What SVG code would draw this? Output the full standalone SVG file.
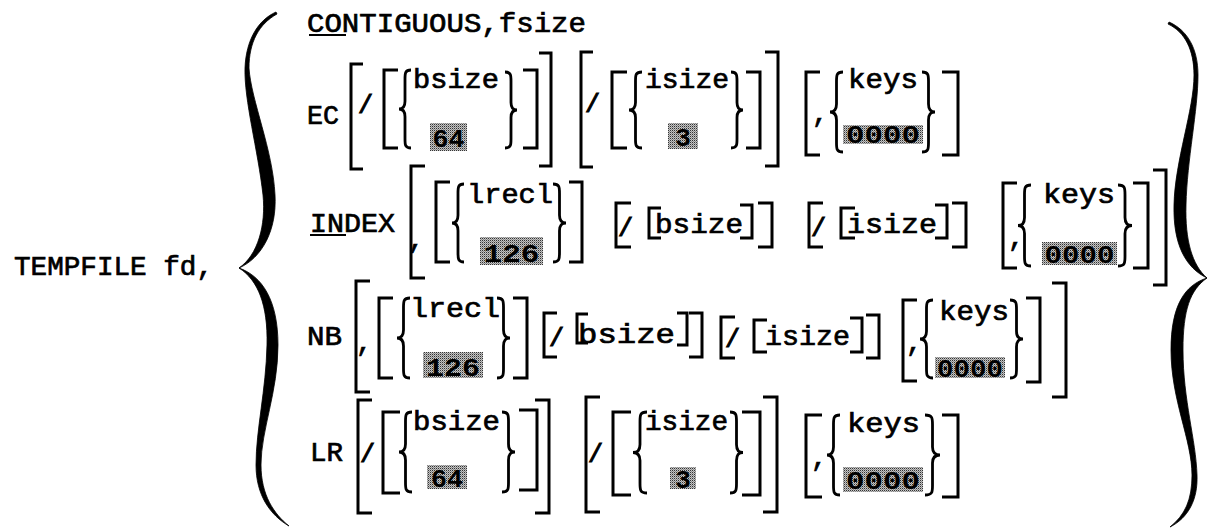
<svg xmlns="http://www.w3.org/2000/svg" xmlns:xlink="http://www.w3.org/1999/xlink" width="1207" height="528" viewBox="0 0 1207 528">
  <style>
    .t { font-family: "Liberation Mono", "Courier New", monospace; font-weight: normal; font-size: 27px; fill: #000; stroke: #000; stroke-width: 0.7px; }
    .s { font-family: "Liberation Mono", "Courier New", monospace; font-weight: normal; font-size: 25px; fill: #000; stroke: #000; stroke-width: 1px; }
    .d { font-family: "Liberation Mono", "Courier New", monospace; font-weight: bold; font-size: 26px; fill: #000; text-anchor: middle; }
    .br { fill: none; stroke: #000; stroke-width: 3; stroke-linejoin: miter; }
    .ul { stroke: #000; stroke-width: 2; }
    .hl { fill: url(#stipple); }
    .big { fill: #000; stroke: #000; stroke-width: 0.8; }
  </style>
  <defs>
    <!-- dithered grey shading behind default values -->
    <pattern id="stipple" width="2" height="2" patternUnits="userSpaceOnUse">
      <rect width="2" height="2" fill="#c4c4c4"/>
      <rect width="1" height="1" fill="#333"/>
      <rect x="1" y="1" width="1" height="1" fill="#8a8a8a"/>
    </pattern>
    <!-- small choice braces, stretched to the size of each option stack -->
    <symbol id="lb" viewBox="0 0 12 100" preserveAspectRatio="none" style="overflow:visible">
      <path d="M12,0 C6,0 6,4 6,12 L6,40 C6,47 4,50 0,50 C4,50 6,53 6,60 L6,88 C6,96 6,100 12,100" fill="none" stroke="#000" stroke-width="2.8" vector-effect="non-scaling-stroke"/>
    </symbol>
    <symbol id="rb" viewBox="0 0 12 100" preserveAspectRatio="none" style="overflow:visible">
      <path d="M0,0 C6,0 6,4 6,12 L6,40 C6,47 8,50 12,50 C8,50 6,53 6,60 L6,88 C6,96 6,100 0,100" fill="none" stroke="#000" stroke-width="2.8" vector-effect="non-scaling-stroke"/>
    </symbol>
  </defs>

  <rect width="1207" height="528" fill="#fff"/>

  <!-- command name -->
  <g id="command">
    <text class="t" x="14" y="275" textLength="199" lengthAdjust="spacingAndGlyphs">TEMPFILE fd,</text>
  </g>

  <!-- large outer braces -->
  <g id="brace-left">
    <path class="big" d="M276,12 C258,20 246,40 245,68 C244,100 258,150 263,195 C266,225 258,255 239,268 C262,258 277,230 275,195 C273,150 251,100 249,68 C249,42 259,24 277,14 Z"/>
    <path class="big" d="M239,268 C258,280 268,305 267,345 C266,390 256,430 256,465 C256,495 270,515 289,526 C274,514 261,495 261,465 C261,430 278,392 278,345 C278,300 262,276 239,268 Z"/>
  </g>
  <g id="brace-right">
    <path class="big" d="M1169,22 C1187,30 1198,48 1198,75 C1198,110 1187,160 1186,205 C1185,240 1192,265 1207,278 C1186,268 1173,245 1174,205 C1175,160 1194,110 1194,75 C1194,50 1185,32 1168,24 Z"/>
    <path class="big" d="M1207,278 C1190,290 1183,310 1183,350 C1183,400 1196,440 1197,475 C1198,500 1188,518 1170,527 C1185,515 1192,500 1192,475 C1192,440 1171,400 1171,350 C1171,305 1185,285 1207,278 Z"/>
  </g>

  <!-- CONTIGUOUS option -->
  <g id="row-contiguous">
    <text class="t" x="307" y="32" textLength="279" lengthAdjust="spacingAndGlyphs">CONTIGUOUS,fsize</text>
    <line class="ul" x1="309" y1="35" x2="346" y2="35"/>
  </g>

  <!-- EC option -->
  <g id="row-ec">
    <text class="t" x="307" y="124" textLength="32" lengthAdjust="spacingAndGlyphs">EC</text>
    <path class="br" d="M363,64 H351 V169 H363"/>
    <text class="s" x="358" y="113">/</text>
    <path class="br" d="M398,70 H384 V148 H398"/>
    <use href="#lb" x="399" y="70" width="12" height="78"/>
    <text class="t" x="413" y="88" textLength="86" lengthAdjust="spacingAndGlyphs">bsize</text>
    <rect class="hl" x="430" y="123" width="37" height="28"/>
    <text class="d" x="448.5" y="147" textLength="32" lengthAdjust="spacingAndGlyphs">64</text>
    <use href="#rb" x="505" y="72" width="12" height="76"/>
    <path class="br" d="M523,70 H537 V148 H523"/>
    <path class="br" d="M539,53 H551 V166 H539"/>

    <path class="br" d="M593,52 H581 V167 H593"/>
    <text class="s" x="585" y="112">/</text>
    <path class="br" d="M627,72 H612 V148 H627"/>
    <use href="#lb" x="629" y="72" width="13" height="76"/>
    <text class="t" x="645" y="88" textLength="84" lengthAdjust="spacingAndGlyphs">isize</text>
    <rect class="hl" x="668" y="123" width="30" height="26"/>
    <text class="d" x="683" y="146">3</text>
    <use href="#rb" x="731" y="72" width="12" height="76"/>
    <path class="br" d="M746,72 H760 V148 H746"/>
    <path class="br" d="M765,52 H778 V166 H765"/>

    <path class="br" d="M820,72 H806 V155 H820"/>
    <text class="t" x="812" y="122">,</text>
    <use href="#lb" x="830" y="72" width="13" height="80"/>
    <text class="t" x="848" y="88" textLength="70" lengthAdjust="spacingAndGlyphs">keys</text>
    <rect class="hl" x="843" y="125" width="80" height="19"/>
    <text class="d" x="883" y="143" textLength="74" lengthAdjust="spacingAndGlyphs">0000</text>
    <use href="#rb" x="922" y="72" width="13" height="80"/>
    <path class="br" d="M942,72 H958 V155 H942"/>
  </g>

  <!-- INDEX option -->
  <g id="row-index">
    <text class="t" x="310" y="232" textLength="85" lengthAdjust="spacingAndGlyphs">INDEX</text>
    <line class="ul" x1="310" y1="235" x2="346" y2="235"/>
    <path class="br" d="M425,166 H411 V278 H425"/>
    <text class="t" x="408" y="248">,</text>
    <path class="br" d="M450,182 H436 V262 H450"/>
    <use href="#lb" x="452" y="184" width="12" height="78"/>
    <text class="t" x="467" y="203" textLength="86" lengthAdjust="spacingAndGlyphs">lrecl</text>
    <rect class="hl" x="480" y="237" width="63" height="28"/>
    <text class="d" x="511.5" y="262" textLength="56" lengthAdjust="spacingAndGlyphs">126</text>
    <use href="#rb" x="553" y="184" width="13" height="78"/>
    <path class="br" d="M569,182 H582 V262 H569"/>

    <path class="br" d="M631,203 H616 V247 H631"/>
    <text class="s" x="618" y="236">/</text>
    <path class="br" d="M661,208 H649 V238 H661"/>
    <text class="t" x="655" y="233" textLength="88" lengthAdjust="spacingAndGlyphs">bsize</text>
    <path class="br" d="M740,205 H752 V238 H740"/>
    <path class="br" d="M758,203 H772 V247 H758"/>

    <path class="br" d="M823,203 H809 V247 H823"/>
    <text class="s" x="811" y="236">/</text>
    <path class="br" d="M855,208 H841 V238 H855"/>
    <text class="t" x="847" y="233" textLength="90" lengthAdjust="spacingAndGlyphs">isize</text>
    <path class="br" d="M935,205 H947 V238 H935"/>
    <path class="br" d="M952,203 H966 V247 H952"/>

    <path class="br" d="M1017,183 H1003 V268 H1017"/>
    <text class="t" x="1008" y="246">,</text>
    <use href="#lb" x="1018" y="185" width="13" height="81"/>
    <text class="t" x="1043" y="203" textLength="72" lengthAdjust="spacingAndGlyphs">keys</text>
    <rect class="hl" x="1042" y="242" width="75" height="23"/>
    <text class="d" x="1079.5" y="263" textLength="70" lengthAdjust="spacingAndGlyphs">0000</text>
    <use href="#rb" x="1118" y="185" width="14" height="81"/>
    <path class="br" d="M1133,183 H1148 V268 H1133"/>
    <path class="br" d="M1153,170 H1166 V285 H1153"/>
  </g>

  <!-- NB option -->
  <g id="row-nb">
    <text class="t" x="307" y="345" textLength="35" lengthAdjust="spacingAndGlyphs">NB</text>
    <path class="br" d="M370,281 H356 V392 H370"/>
    <text class="t" x="356" y="351">,</text>
    <path class="br" d="M393,298 H379 V378 H393"/>
    <use href="#lb" x="397" y="298" width="13" height="80"/>
    <text class="t" x="410" y="317" textLength="90" lengthAdjust="spacingAndGlyphs">lrecl</text>
    <rect class="hl" x="423" y="352" width="60" height="26"/>
    <text class="d" x="453" y="376" textLength="54" lengthAdjust="spacingAndGlyphs">126</text>
    <use href="#rb" x="497" y="298" width="13" height="80"/>
    <path class="br" d="M513,298 H527 V378 H513"/>

    <path class="br" d="M557,313 H544 V357 H557"/>
    <text class="s" x="549" y="346">/</text>
    <path class="br" d="M588,314 H577 V343 H588"/>
    <text class="t" x="578" y="343" textLength="97" lengthAdjust="spacingAndGlyphs">bsize</text>
    <path class="br" d="M677,313 H687 V345 H677"/>
    <path class="br" d="M689,313 H702 V357 H689"/>

    <path class="br" d="M735,317 H721 V358 H735"/>
    <text class="s" x="725" y="347">/</text>
    <path class="br" d="M767,320 H754 V352 H767"/>
    <text class="t" x="765" y="345" textLength="85" lengthAdjust="spacingAndGlyphs">isize</text>
    <path class="br" d="M850,318 H862 V352 H850"/>
    <path class="br" d="M866,315 H879 V358 H866"/>

    <path class="br" d="M917,300 H903 V381 H917"/>
    <text class="t" x="906" y="351">,</text>
    <use href="#lb" x="920" y="300" width="13" height="78"/>
    <text class="t" x="939" y="320" textLength="70" lengthAdjust="spacingAndGlyphs">keys</text>
    <rect class="hl" x="935" y="357" width="70" height="21"/>
    <text class="d" x="970" y="377" textLength="66" lengthAdjust="spacingAndGlyphs">0000</text>
    <use href="#rb" x="1010" y="300" width="13" height="78"/>
    <path class="br" d="M1026,298 H1040 V382 H1026"/>
    <path class="br" d="M1052,283 H1066 V397 H1052"/>
  </g>

  <!-- LR option -->
  <g id="row-lr">
    <text class="t" x="310" y="461" textLength="33" lengthAdjust="spacingAndGlyphs">LR</text>
    <path class="br" d="M372,400 H358 V513 H372"/>
    <text class="s" x="360" y="462">/</text>
    <path class="br" d="M400,412 H383 V493 H400"/>
    <use href="#lb" x="399" y="412" width="13" height="80"/>
    <text class="t" x="413" y="430" textLength="87" lengthAdjust="spacingAndGlyphs">bsize</text>
    <rect class="hl" x="427" y="465" width="40" height="24"/>
    <text class="d" x="447" y="487" textLength="32" lengthAdjust="spacingAndGlyphs">64</text>
    <use href="#rb" x="502" y="412" width="13" height="80"/>
    <path class="br" d="M519,410 H537 V490 H519"/>
    <path class="br" d="M535,400 H549 V513 H535"/>

    <path class="br" d="M600,397 H586 V512 H600"/>
    <text class="s" x="588" y="462">/</text>
    <path class="br" d="M631,412 H613 V495 H631"/>
    <use href="#lb" x="633" y="412" width="14" height="81"/>
    <text class="t" x="645" y="430" textLength="83" lengthAdjust="spacingAndGlyphs">isize</text>
    <rect class="hl" x="670" y="467" width="26" height="22"/>
    <text class="d" x="683" y="488">3</text>
    <use href="#rb" x="730" y="412" width="13" height="81"/>
    <path class="br" d="M742,412 H760 V495 H742"/>
    <path class="br" d="M763,397 H777 V512 H763"/>

    <path class="br" d="M822,415 H806 V497 H822"/>
    <text class="t" x="811" y="466">,</text>
    <use href="#lb" x="827" y="415" width="13" height="80"/>
    <text class="t" x="847" y="432" textLength="73" lengthAdjust="spacingAndGlyphs">keys</text>
    <rect class="hl" x="843" y="467" width="80" height="25"/>
    <text class="d" x="883" y="489" textLength="74" lengthAdjust="spacingAndGlyphs">0000</text>
    <use href="#rb" x="925" y="415" width="15" height="80"/>
    <path class="br" d="M942,415 H958 V497 H942"/>
  </g>
</svg>
